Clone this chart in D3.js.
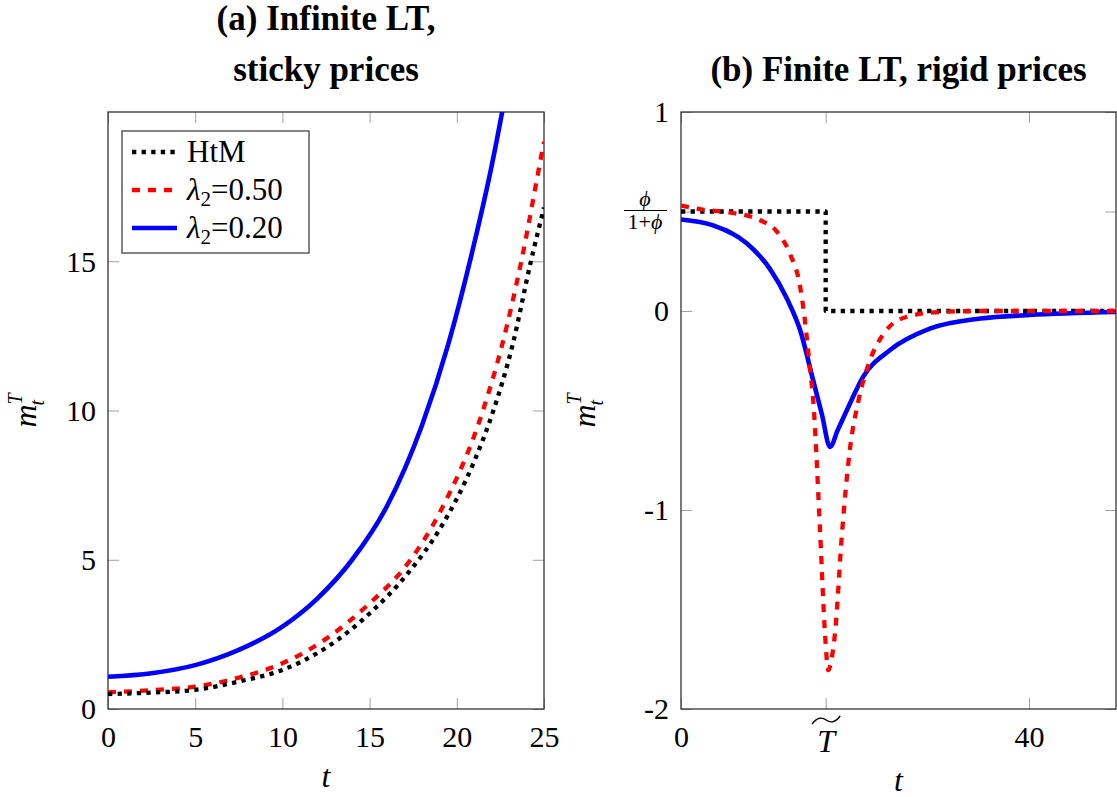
<!DOCTYPE html>
<html>
<head>
<meta charset="utf-8">
<script src="https://cdn.jsdelivr.net/npm/d3@7"></script>
<style>
  body { margin: 0; background: #fff; }
  text { font-family: "Liberation Serif", "Times New Roman", serif; fill: #000; }
</style>
</head>
<body>
<div id="chart"></div>
<script>
// ---- panel (a): infinite LT, sticky prices ----
const aHtmT = [0, 2.5, 5, 7.5, 10, 12.5, 15, 17.2, 19.1, 21, 22.1, 23.2, 24.25, 25];
const aHtmY = [0.5, 0.55, 0.64, 0.92, 1.31, 2.05, 3.2, 4.55, 6.1, 8.3, 10, 12.2, 15, 16.8];
const aL50T = [0, 2.5, 5, 7.5, 10, 12.5, 15, 17.2, 19.1, 21.5, 22.6, 23.7, 24.9, 25];
const aL50Y = [0.56, 0.63, 0.75, 1.05, 1.53, 2.35, 3.54, 4.88, 6.67, 10, 12.2, 15, 18.7, 19.0];
const aL20T = [0, 2.5, 5, 7.5, 10, 12, 14, 16, 18, 19.5, 21, 22, 22.6, 23.5];
const aL20Y = [1.08, 1.2, 1.47, 1.98, 2.76, 3.7, 5.0, 6.8, 9.5, 12.2, 15.6, 18.2, 20, 23];
const aXTicks = [0, 5, 10, 15, 20, 25];
const aYTicks = [0, 5, 10, 15];

// ---- panel (b): finite LT, rigid prices ----
const tTilde = 16.63;
const bHtmT = [0, tTilde, tTilde, 50];
const bHtmY = [0.5, 0.5, 0, 0];
const bL50T = [0, 2.5, 5.6, 9.1, 11, 12.5, 13.7, 14.25, 14.8, 15.2, 16, 16.55, 16.93, 17.3, 17.7, 18.5, 19.4, 20.4, 21.7, 23.3, 25.9, 29.8, 35, 50];
const bL50Y = [0.53, 0.51, 0.495, 0.456, 0.40, 0.29, 0.12, -0.05, -0.28, -0.45, -1.12, -1.62, -1.805, -1.75, -1.62, -1.12, -0.70, -0.45, -0.25, -0.114, -0.03, -0.005, 0, 0];
const bL20T = [0, 3.7, 7.55, 10.2, 12.2, 13.7, 15.2, 16.2, 17.13, 18, 19.05, 20.95, 24, 28.6, 34.4, 40, 50];
const bL20Y = [0.46, 0.43, 0.34, 0.213, 0.06, -0.097, -0.35, -0.52, -0.683, -0.6, -0.5, -0.33, -0.197, -0.089, -0.038, -0.02, -0.005];
const bXTicks = [0, tTilde, 40];
const bYTicks = [-2, -1, 0, 0.5, 1];

const legendLabels = ["HtM", "0.50", "0.20"];

const W = 1117, H = 797;
const svg = d3.select("#chart").append("svg")
  .attr("width", W).attr("height", H)
  .style("background", "#fff");

const xA = d3.scaleLinear().domain([0, 25]).range([108, 544]);
const yA = d3.scaleLinear().domain([0, 20]).range([709, 112]);
const xB = d3.scaleLinear().domain([0, 50]).range([681, 1116]);
const yB = d3.scaleLinear().domain([-2, 1]).range([709, 112]);

const styles = {
  htm: {color: "#000", dash: "4.3,5.3", width: 4.3},
  l50: {color: "#ff0000", dash: "8,8", width: 4.3},
  l20: {color: "#0000ff", dash: null, width: 4.6}
};

function zip(ts, ys) { return ts.map((t, i) => ({t: t, v: ys[i]})); }

function drawAxes(x, y, xt, yt, xfmt, yfmt) {
  const g = svg.append("g");
  const [x0, x1] = x.range(), [y0, y1] = y.range();
  const axes = [
    g.append("g").attr("transform", `translate(0,${y0})`)
      .call(d3.axisBottom(x).tickValues(xt).tickSize(-11).tickFormat(xfmt)),
    g.append("g").attr("transform", `translate(0,${y1})`)
      .call(d3.axisTop(x).tickValues(xt).tickSize(-11).tickFormat("")),
    g.append("g").attr("transform", `translate(${x0},0)`)
      .call(d3.axisLeft(y).tickValues(yt).tickSize(-11).tickFormat(yfmt)),
    g.append("g").attr("transform", `translate(${x1},0)`)
      .call(d3.axisRight(y).tickValues(yt).tickSize(-11).tickFormat(""))
  ];
  axes.forEach(a => {
    a.select(".domain").remove();
    a.attr("font-family", null).attr("font-size", 30);
    a.selectAll(".tick line").attr("stroke", "#a0a0a0").attr("stroke-width", 1);
  });
  axes[0].selectAll(".tick text").attr("y", 38).attr("dy", 0);
  axes[2].selectAll(".tick text").attr("x", -12).attr("dy", "0.33em");
  g.append("rect")
    .attr("x", x0).attr("y", y1).attr("width", x1 - x0).attr("height", y0 - y1)
    .attr("fill", "none").attr("stroke", "#333").attr("stroke-width", 1.3);
  return axes;
}

function drawLines(id, x, y, series) {
  const [x0, x1] = x.range(), [y0, y1] = y.range();
  svg.append("clipPath").attr("id", id)
    .append("rect").attr("x", x0).attr("y", y1).attr("width", x1 - x0).attr("height", y0 - y1);
  const g = svg.append("g").attr("clip-path", `url(#${id})`);
  series.forEach(s => {
    const line = d3.line().x(d => x(d.t)).y(d => y(d.v)).curve(s.curve || d3.curveMonotoneX);
    g.append("path").datum(s.data)
      .attr("d", line)
      .attr("fill", "none")
      .attr("stroke", s.style.color)
      .attr("stroke-width", s.style.width)
      .attr("stroke-dasharray", s.style.dash)
      .attr("stroke-linejoin", "round");
  });
}

// axes (a)
drawAxes(xA, yA, aXTicks, aYTicks, d => String(d), d => String(d));
drawLines("clipA", xA, yA, [
  {data: zip(aL20T, aL20Y), style: styles.l20},
  {data: zip(aL50T, aL50Y), style: styles.l50},
  {data: zip(aHtmT, aHtmY), style: styles.htm}
]);

// axes (b) -- plain hyphen for negative labels, as in the original
const axesB = drawAxes(xB, yB, bXTicks, bYTicks,
  d => d === tTilde ? "" : String(d),
  d => d === 0.5 ? "" : String(d));
drawLines("clipB", xB, yB, [
  {data: zip(bHtmT, bHtmY), style: styles.htm, curve: d3.curveLinear},
  {data: zip(bL20T, bL20Y), style: styles.l20},
  {data: zip(bL50T, bL50Y), style: styles.l50}
]);

// T-tilde tick label
const tt = axesB[0].selectAll(".tick").filter(d => d === tTilde);
tt.append("text").attr("x", 0).attr("y", 43).attr("text-anchor", "middle")
  .attr("font-size", 32).attr("font-style", "italic").text("T");
tt.append("path").attr("d", "M-14,15 C-9,8 -4,8 0,11 C4,14 9,14 14,7")
  .attr("fill", "none").attr("stroke", "#000").attr("stroke-width", 1.4);

// phi/(1+phi) tick label
const ft = axesB[2].selectAll(".tick").filter(d => d === 0.5);
ft.append("text").attr("x", -36).attr("y", -6).attr("text-anchor", "middle")
  .attr("font-size", 22).attr("font-style", "italic").text("ϕ");
ft.append("line").attr("x1", -57).attr("x2", -14).attr("y1", -1.5).attr("y2", -1.5)
  .attr("stroke", "#000").attr("stroke-width", 1);
ft.append("text").attr("x", -36).attr("y", 17).attr("text-anchor", "middle")
  .attr("font-size", 22)
  .html('1+<tspan font-style="italic">ϕ</tspan>');

// titles
const cA = (xA.range()[0] + xA.range()[1]) / 2;
const cB = (xB.range()[0] + xB.range()[1]) / 2;
svg.append("text").attr("x", cA).attr("y", 30).attr("text-anchor", "middle")
  .attr("font-size", 35).attr("font-weight", "bold").text("(a) Infinite LT,");
svg.append("text").attr("x", cA).attr("y", 81).attr("text-anchor", "middle")
  .attr("font-size", 35).attr("font-weight", "bold").text("sticky prices");
svg.append("text").attr("x", cB).attr("y", 81).attr("text-anchor", "middle")
  .attr("font-size", 35).attr("font-weight", "bold").text("(b) Finite LT, rigid prices");

// axis labels
[cA, cB].forEach(c => {
  svg.append("text").attr("x", c).attr("y", c === cA ? 787 : 791)
    .attr("text-anchor", "middle").attr("font-size", 32).attr("font-style", "italic").text("t");
});
[[36, yA], [595, yB]].forEach(([xp, y]) => {
  const cy = (y.range()[0] + y.range()[1]) / 2;
  const t = svg.append("text")
    .attr("transform", `translate(${xp},${cy}) rotate(-90)`)
    .attr("text-anchor", "middle").attr("font-size", 32).attr("font-style", "italic");
  t.append("tspan").text("m");
  t.append("tspan").attr("font-size", 20).attr("dy", -14).text("T");
  t.append("tspan").attr("font-size", 20).attr("dx", -12).attr("dy", 22).text("t");
});

// legend
const lg = svg.append("g").attr("transform", "translate(122,131)");
lg.append("rect").attr("width", 187).attr("height", 122)
  .attr("fill", "#fff").attr("stroke", "#333").attr("stroke-width", 1.2);
[styles.htm, styles.l50, styles.l20].forEach((s, i) => {
  const cy = 21 + i * 38;
  lg.append("line").attr("x1", 10).attr("x2", 55).attr("y1", cy).attr("y2", cy)
    .attr("stroke", s.color).attr("stroke-width", s.width).attr("stroke-dasharray", s.dash);
  const t = lg.append("text").attr("x", 65).attr("y", cy + 10).attr("font-size", 31);
  if (i === 0) {
    t.text(legendLabels[i]);
  } else {
    t.append("tspan").attr("font-style", "italic").text("λ");
    t.append("tspan").attr("font-size", 21).attr("dy", 6).text("2");
    t.append("tspan").attr("dy", -6).text("=" + legendLabels[i]);
  }
});
</script>
</body>
</html>
